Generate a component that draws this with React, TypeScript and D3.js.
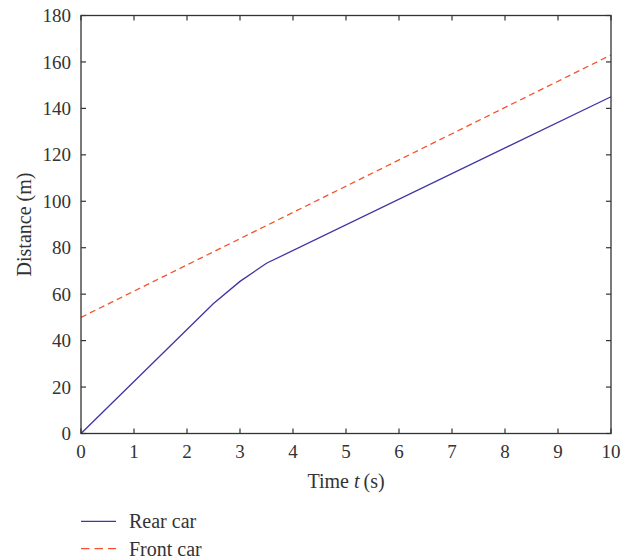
import React from "react";
import * as d3 from "d3";

const timeRear = [0, 2.5, 3, 3.5, 10];
const distRear = [0, 56, 65.5, 73.3, 145];
const timeFront = [0, 10];
const distFront = [50, 163];
const xTicks = [0, 1, 2, 3, 4, 5, 6, 7, 8, 9, 10];
const yTicks = [0, 20, 40, 60, 80, 100, 120, 140, 160, 180];
const legendLabels = ["Rear car", "Front car"];

const W = 634, H = 559;
const L = 81, R = 611, T = 15.5, B = 433.5;
const FONT = "'Liberation Serif', 'Times New Roman', serif";
const AX = "#333";
const BLUE = "#3f35a3";
const RED = "#f2542d";

export default function App() {
  const x = d3.scaleLinear().domain([0, 10]).range([L, R]);
  const y = d3.scaleLinear().domain([0, 180]).range([B, T]);
  const line = d3.line<[number, number]>().x(d => x(d[0])).y(d => y(d[1]));
  const rear = line(timeRear.map((t, i) => [t, distRear[i]]))!;
  const front = line(timeFront.map((t, i) => [t, distFront[i]]))!;
  const tl = 5;
  return (
    <svg width={W} height={H} style={{ position: "absolute", left: 0, top: 0, background: "#fff" }}>
      <path d={front} fill="none" stroke={RED} strokeWidth={1.3} strokeDasharray="6,4" />
      <path d={rear} fill="none" stroke={BLUE} strokeWidth={1.3} />
      <rect x={L} y={T} width={R - L} height={B - T} fill="none" stroke={AX} strokeWidth={1.3} />
      {xTicks.map(t => (
        <g key={"x" + t}>
          <line x1={x(t)} x2={x(t)} y1={B} y2={B - tl} stroke={AX} strokeWidth={1.2} />
          <line x1={x(t)} x2={x(t)} y1={T} y2={T + tl} stroke={AX} strokeWidth={1.2} />
          <text x={x(t)} y={458} textAnchor="middle" fontFamily={FONT} fontSize={19} fill={AX}>{t}</text>
        </g>
      ))}
      {yTicks.map(t => (
        <g key={"y" + t}>
          <line x1={L} x2={L + tl} y1={y(t)} y2={y(t)} stroke={AX} strokeWidth={1.2} />
          <line x1={R} x2={R - tl} y1={y(t)} y2={y(t)} stroke={AX} strokeWidth={1.2} />
          <text x={71} y={y(t)} dy="0.35em" textAnchor="end" fontFamily={FONT} fontSize={19} fill={AX}>{t}</text>
        </g>
      ))}
      <text x={(L + R) / 2} y={488} textAnchor="middle" fontFamily={FONT} fontSize={20} fill={AX}>
        Time <tspan fontStyle="italic">t</tspan>{"\u2009"}(s)
      </text>
      <text transform={`translate(31,${(T + B) / 2}) rotate(-90)`} textAnchor="middle" fontFamily={FONT} fontSize={20} fill={AX}>
        Distance (m)
      </text>
      {legendLabels.map((lab, i) => {
        const ly = i === 0 ? 521.3 : 548.7;
        return (
          <g key={lab}>
            <line x1={81} x2={116} y1={ly} y2={ly} stroke={i === 0 ? BLUE : RED} strokeWidth={1.3} strokeDasharray={i === 0 ? undefined : "8.5,5"} />
            <text x={129} y={ly} dy="0.35em" fontFamily={FONT} fontSize={20} fill={AX}>{lab}</text>
          </g>
        );
      })}
    </svg>
  );
}
